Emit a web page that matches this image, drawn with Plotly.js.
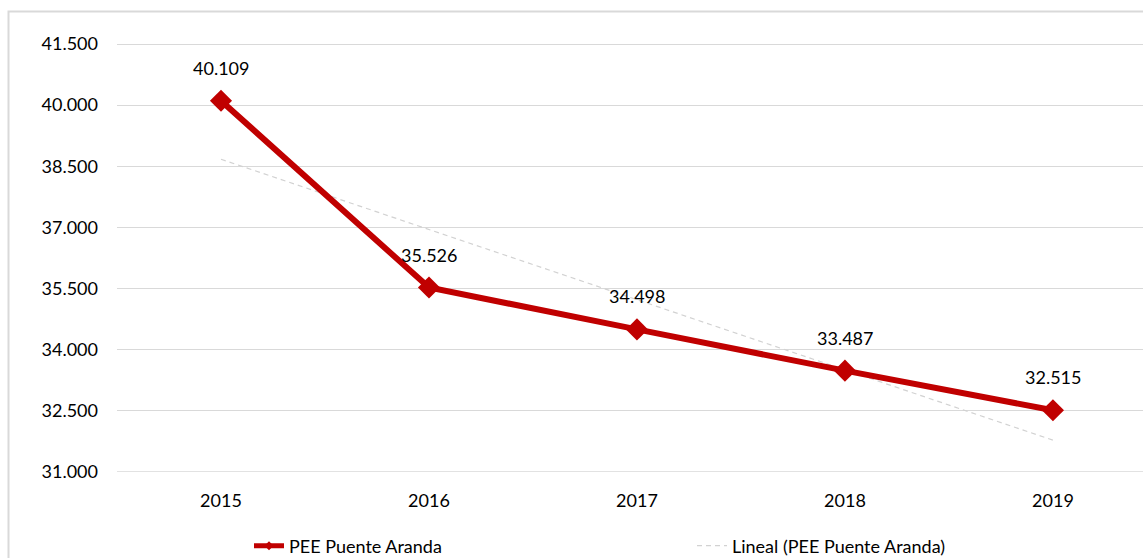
<!DOCTYPE html>
<html>
<head>
<meta charset="utf-8">
<script src="https://cdn.plot.ly/plotly-3.0.1.min.js"></script>
<style>html,body{margin:0;padding:0;background:#fff;}#chart{width:1143px;height:558px;}</style>
</head>
<body>
<div id="chart"></div>
<script>
const years = ['2015', '2016', '2017', '2018', '2019'];
const peeValues = [40109, 35526, 34498, 33487, 32515];
const seriesName = 'PEE Puente Aranda';
const trendName = 'Lineal (PEE Puente Aranda)';
const yTicks = [31000, 32500, 34000, 35500, 37000, 38500, 40000, 41500];

// least-squares linear trend (as the spreadsheet's "Lineal" trendline)
const n = peeValues.length;
const idx = peeValues.map((_, i) => i);
const mx = idx.reduce((a, b) => a + b, 0) / n;
const my = peeValues.reduce((a, b) => a + b, 0) / n;
let sxy = 0, sxx = 0;
idx.forEach((x, i) => { sxy += (x - mx) * (peeValues[i] - my); sxx += (x - mx) * (x - mx); });
const slope = sxy / sxx;
const intercept = my - slope * mx;
const trendValues = idx.map(x => intercept + slope * x);

const FONT = 'Lato, sans-serif';
const RED = '#C00000';

function fmt(v) {
  return String(Math.round(v)).replace(/\B(?=(\d{3})+(?!\d))/g, '.');
}

const traces = [
  {
    x: years, y: trendValues, type: 'scatter', mode: 'lines', name: trendName,
    line: {color: '#d2d2d2', width: 1.2, dash: '5px,4px'},
    hoverinfo: 'skip', showlegend: false
  },
  {
    x: years, y: peeValues, type: 'scatter', mode: 'lines+markers', name: seriesName,
    line: {color: RED, width: 6},
    marker: {symbol: 'diamond', size: 17, color: RED},
    hoverinfo: 'x+y', showlegend: false
  },
  {
    x: [null], y: [null], type: 'scatter', mode: 'lines+markers', name: seriesName,
    line: {color: RED, width: 5},
    marker: {symbol: 'diamond', size: 7, color: RED}
  },
  {
    x: [null], y: [null], type: 'scatter', mode: 'lines', name: trendName,
    line: {color: '#d2d2d2', width: 1.2, dash: '5px,4px'}
  }
];

const annos = [];
for (let i = 0; i < years.length; i++) {
  annos.push({
    x: i, y: peeValues[i], xref: 'x', yref: 'y',
    text: fmt(peeValues[i]),
    showarrow: false, yshift: 33,
    font: {family: FONT, size: 18, color: '#000000'}
  });
}

const plotL = 117, plotR = 1143, plotT = 20, plotB = 472;
const pw = plotR - plotL, ph = plotB - plotT;
const px = p => (p - plotL) / pw;
const py = p => (plotB - p) / ph;

const layout = {
  width: 1143, height: 558,
  margin: {l: plotL, r: 1143 - plotR, t: plotT, b: 558 - plotB, pad: 0, autoexpand: false},
  paper_bgcolor: '#fff', plot_bgcolor: '#fff',
  separators: ',.',
  font: {family: FONT, size: 18, color: '#000'},
  showlegend: true,
  legend: {
    orientation: 'h', x: px(249), xanchor: 'left', y: py(546), yanchor: 'middle',
    entrywidth: 398, entrywidthmode: 'pixels',
    font: {family: FONT, size: 18, color: '#000'},
    traceorder: 'normal', bgcolor: 'rgba(0,0,0,0)'
  },
  xaxis: {
    type: 'category', range: [-0.5, 4.433], showgrid: false, zeroline: false,
    showline: false, ticks: '', ticklabelstandoff: 16, automargin: false,
    tickfont: {family: FONT, size: 18, color: '#000'}, fixedrange: true
  },
  yaxis: {
    range: [31000, 41500 + (44 - plotT) * 10500 / 428],
    tickvals: yTicks, tickformat: ',.0f', automargin: false,
    showgrid: true, gridcolor: '#d9d9d9', gridwidth: 1.3,
    zeroline: false, showline: false, ticks: '', ticklabelstandoff: 18,
    tickfont: {family: FONT, size: 18, color: '#000'}, fixedrange: true
  },
  shapes: [
    {type: 'line', xref: 'paper', yref: 'y', x0: 0, x1: 1, y0: 31000, y1: 31000,
     line: {color: '#d9d9d9', width: 1.3}, layer: 'below'},
    {type: 'rect', xref: 'paper', yref: 'paper', x0: px(8.5), x1: px(1200), y0: py(700), y1: py(11.5),
     line: {color: '#d9d9d9', width: 2}, fillcolor: 'rgba(0,0,0,0)', layer: 'below'}
  ],
  annotations: annos
};

Plotly.newPlot('chart', traces, layout, {displayModeBar: false});
</script>
</body>
</html>
